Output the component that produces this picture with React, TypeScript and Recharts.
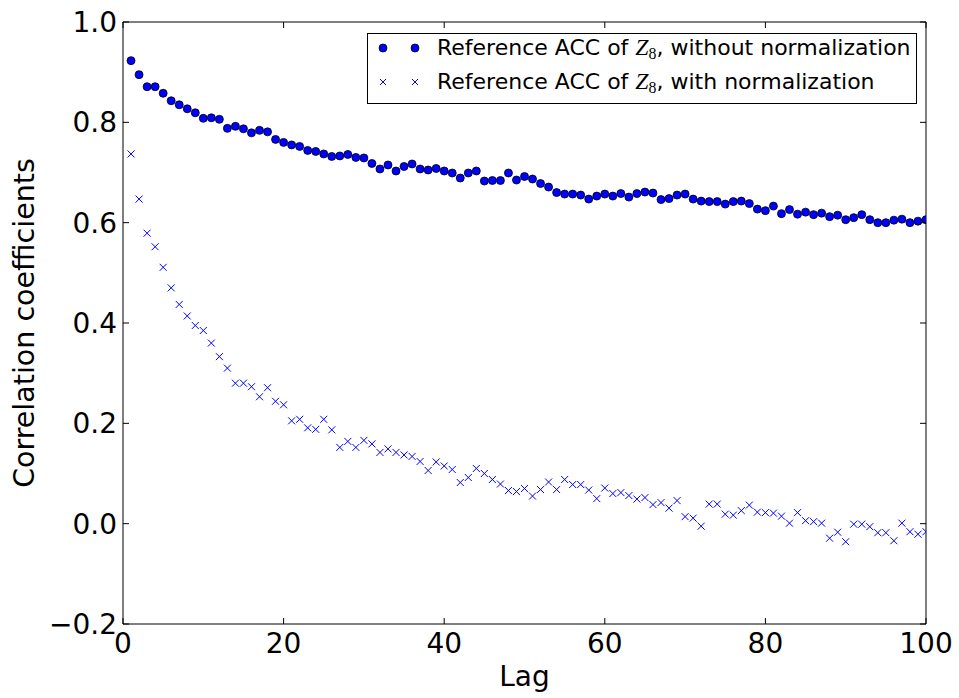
import React from 'react';
import { ScatterChart, Scatter, XAxis, YAxis, Legend } from 'recharts';

const lags: number[] = Array.from({ length: 100 }, (_, i) => i + 1);

const withoutNormalization: number[] = [
  0.923, 0.895, 0.871, 0.871, 0.858, 0.843, 0.835, 0.827, 0.819, 0.808,
  0.809, 0.806, 0.788, 0.792, 0.787, 0.779, 0.784, 0.781, 0.766, 0.760,
  0.755, 0.752, 0.744, 0.742, 0.737, 0.732, 0.733, 0.736, 0.730, 0.729,
  0.718, 0.707, 0.715, 0.703, 0.712, 0.717, 0.707, 0.705, 0.708, 0.703,
  0.699, 0.689, 0.699, 0.703, 0.683, 0.684, 0.684, 0.699, 0.685, 0.692,
  0.687, 0.678, 0.671, 0.660, 0.657, 0.657, 0.655, 0.647, 0.653, 0.657,
  0.653, 0.658, 0.651, 0.658, 0.661, 0.659, 0.646, 0.648, 0.655, 0.657,
  0.647, 0.643, 0.642, 0.642, 0.637, 0.642, 0.643, 0.638, 0.627, 0.624,
  0.633, 0.618, 0.626, 0.617, 0.621, 0.616, 0.619, 0.612, 0.615, 0.606,
  0.610, 0.616, 0.606, 0.600, 0.600, 0.605, 0.607, 0.600, 0.603, 0.606,
];

const withNormalization: number[] = [
  0.737, 0.647, 0.579, 0.552, 0.511, 0.470, 0.437, 0.414, 0.395, 0.385,
  0.360, 0.333, 0.310, 0.280, 0.280, 0.273, 0.253, 0.271, 0.244, 0.237,
  0.205, 0.208, 0.191, 0.188, 0.208, 0.187, 0.152, 0.164, 0.152, 0.166,
  0.159, 0.142, 0.149, 0.142, 0.137, 0.134, 0.124, 0.106, 0.123, 0.115,
  0.108, 0.082, 0.092, 0.110, 0.100, 0.088, 0.079, 0.066, 0.064, 0.070,
  0.055, 0.068, 0.083, 0.068, 0.088, 0.078, 0.078, 0.067, 0.050, 0.071,
  0.060, 0.062, 0.056, 0.049, 0.052, 0.038, 0.042, 0.031, 0.046, 0.014,
  0.011, -0.005, 0.039, 0.039, 0.019, 0.017, 0.026, 0.037, 0.023, 0.022,
  0.021, 0.015, 0.001, 0.022, 0.006, 0.004, 0.001, -0.029, -0.017, -0.036,
  -0.001, -0.001, -0.006, -0.018, -0.018, -0.034, 0.001, -0.016, -0.021, -0.016,
];

const xTicks: number[] = [0, 20, 40, 60, 80, 100];
const yTicks: number[] = [-0.2, 0, 0.2, 0.4, 0.6, 0.8, 1.0];

const seriesNames = [
  'without normalization',
  'with normalization',
];

const dataA = lags.map((lag, i) => ({ lag, value: withoutNormalization[i] }));
const dataB = lags.map((lag, i) => ({ lag, value: withNormalization[i] }));

const FONT = 'DejaVu Sans';
const TICK_LEN = 6;

const fmtY = (v: number) => {
  const s = Math.abs(v).toFixed(1);
  return v < 0 ? '\u2212' + s : s;
};

const LeftTick = (props: any) => {
  const { x, y, payload } = props;
  return (
    <g>
      <line x1={x} y1={y} x2={x + TICK_LEN} y2={y} stroke="#000" strokeWidth={1} />
      <text x={x - 6} y={y + 10} textAnchor="end" fontSize={28} fontFamily={FONT} fill="#000">
        {fmtY(payload.value)}
      </text>
    </g>
  );
};

const RightTick = (props: any) => {
  const { x, y } = props;
  return <line x1={x} y1={y} x2={x - TICK_LEN} y2={y} stroke="#000" strokeWidth={1} />;
};

const BottomTick = (props: any) => {
  const { x, y, payload } = props;
  return (
    <g>
      <line x1={x} y1={y} x2={x} y2={y - TICK_LEN} stroke="#000" strokeWidth={1} />
      <text x={x} y={y + 29} textAnchor="middle" fontSize={28} fontFamily={FONT} fill="#000">
        {String(payload.value)}
      </text>
    </g>
  );
};

const TopTick = (props: any) => {
  const { x, y } = props;
  return <line x1={x} y1={y} x2={x} y2={y + TICK_LEN} stroke="#000" strokeWidth={1} />;
};

const CircleShape = (p: any) => (
  <circle cx={p.cx} cy={p.cy} r={4} fill="#0000ff" stroke="#000" strokeWidth={0.8} />
);

const CrossShape = (p: any) => {
  const s = 3.5;
  return (
    <g stroke="#0000ff" strokeWidth={1}>
      <line x1={p.cx - s} y1={p.cy - s} x2={p.cx + s} y2={p.cy + s} />
      <line x1={p.cx - s} y1={p.cy + s} x2={p.cx + s} y2={p.cy - s} />
    </g>
  );
};

const EmptyShape = () => <g />;

const YLabel = (p: any) => {
  const vb = p.viewBox || { x: 0, y: 22, width: 123, height: 602 };
  const cx = vb.x + 34;
  const cy = vb.y + vb.height / 2;
  return (
    <text x={cx} y={cy} textAnchor="middle" fontSize={28.5} fontFamily={FONT} fill="#000"
      transform={`rotate(-90 ${cx} ${cy})`}>
      Correlation coefficients
    </text>
  );
};

const XLabel = (p: any) => {
  const vb = p.viewBox || { x: 123, y: 624, width: 803, height: 74 };
  return (
    <text x={vb.x + vb.width / 2} y={vb.y + 62} textAnchor="middle" fontSize={28} fontFamily={FONT} fill="#000">
      Lag
    </text>
  );
};

const Zsub = () => (
  <span>
    <span style={{ fontFamily: 'Liberation Serif', fontStyle: 'italic', fontSize: '1.08em' }}>Z</span>
    <span style={{ fontFamily: 'Liberation Serif', fontSize: '0.72em', position: 'relative', top: '0.28em' }}>8</span>
  </span>
);

const LegendBox = () => (
  <div
    style={{
      boxSizing: 'border-box',
      width: 550,
      height: 71,
      border: '1px solid #000',
      background: '#fff',
      position: 'relative',
      fontFamily: FONT,
      fontSize: 22,
      color: '#000',
    }}
  >
    <svg width={68} height={69} style={{ position: 'absolute', left: 0, top: 0 }}>
      <circle cx={15} cy={14} r={4} fill="#0000ff" stroke="#000" strokeWidth={0.8} />
      <circle cx={47} cy={14} r={4} fill="#0000ff" stroke="#000" strokeWidth={0.8} />
      {[15, 47].map((cx) => (
        <g key={cx} stroke="#0000ff" strokeWidth={1}>
          <line x1={cx - 3} y1={48 - 3} x2={cx + 3} y2={48 + 3} />
          <line x1={cx - 3} y1={48 + 3} x2={cx + 3} y2={48 - 3} />
        </g>
      ))}
    </svg>
    <div style={{ position: 'absolute', left: 69, top: 14, transform: 'translateY(-50%)', whiteSpace: 'nowrap', lineHeight: 1 }}>
      Reference ACC of <Zsub />, {seriesNames[0]}
    </div>
    <div style={{ position: 'absolute', left: 69, top: 48, transform: 'translateY(-50%)', whiteSpace: 'nowrap', lineHeight: 1 }}>
      Reference ACC of <Zsub />, {seriesNames[1]}
    </div>
  </div>
);

export default function App() {
  return (
    <div style={{ position: 'absolute', left: 0, top: 0, width: 959, height: 698, background: '#fff' }}>
      <ScatterChart
        width={959}
        height={698}
        margin={{ top: 21, right: 32, bottom: 0, left: 0 }}
        style={{ fontFamily: FONT }}
      >
        <XAxis
          xAxisId="b"
          dataKey="lag"
          type="number"
          domain={[0, 100]}
          ticks={xTicks}
          orientation="bottom"
          height={74}
          tickSize={0}
          tickMargin={0}
          tickLine={false}
          tick={<BottomTick />}
          axisLine={{ stroke: '#000', strokeWidth: 1 }}
          allowDataOverflow
          interval={0}
          label={{ content: <XLabel /> }}
        />
        <XAxis
          xAxisId="t"
          dataKey="lag"
          type="number"
          domain={[0, 100]}
          ticks={xTicks}
          orientation="top"
          height={1}
          tickSize={0}
          tickMargin={0}
          tickLine={false}
          tick={<TopTick />}
          axisLine={{ stroke: '#000', strokeWidth: 1 }}
          allowDataOverflow
          interval={0}
        />
        <YAxis
          yAxisId="l"
          dataKey="value"
          type="number"
          domain={[-0.2, 1.0]}
          ticks={yTicks}
          orientation="left"
          width={123}
          tickSize={0}
          tickMargin={0}
          tickLine={false}
          tick={<LeftTick />}
          axisLine={{ stroke: '#000', strokeWidth: 1 }}
          allowDataOverflow
          interval={0}
          label={{ content: <YLabel /> }}
        />
        <YAxis
          yAxisId="r"
          dataKey="value"
          type="number"
          domain={[-0.2, 1.0]}
          ticks={yTicks}
          orientation="right"
          width={1}
          tickSize={0}
          tickMargin={0}
          tickLine={false}
          tick={<RightTick />}
          axisLine={{ stroke: '#000', strokeWidth: 1 }}
          allowDataOverflow
          interval={0}
        />
        <Scatter
          name={seriesNames[0]}
          data={dataA}
          xAxisId="b"
          yAxisId="l"
          shape={<CircleShape />}
          isAnimationActive={false}
        />
        <Scatter
          name={seriesNames[1]}
          data={dataB}
          xAxisId="b"
          yAxisId="l"
          shape={<CrossShape />}
          isAnimationActive={false}
        />
        <Scatter
          name="frame"
          data={dataA}
          xAxisId="t"
          yAxisId="r"
          shape={<EmptyShape />}
          legendType="none"
          isAnimationActive={false}
        />
        <Legend
          layout="horizontal"
          verticalAlign="middle"
          align="center"
          content={<LegendBox />}
          wrapperStyle={{ left: 367, top: 33, width: 550, height: 71 }}
        />
      </ScatterChart>
    </div>
  );
}
